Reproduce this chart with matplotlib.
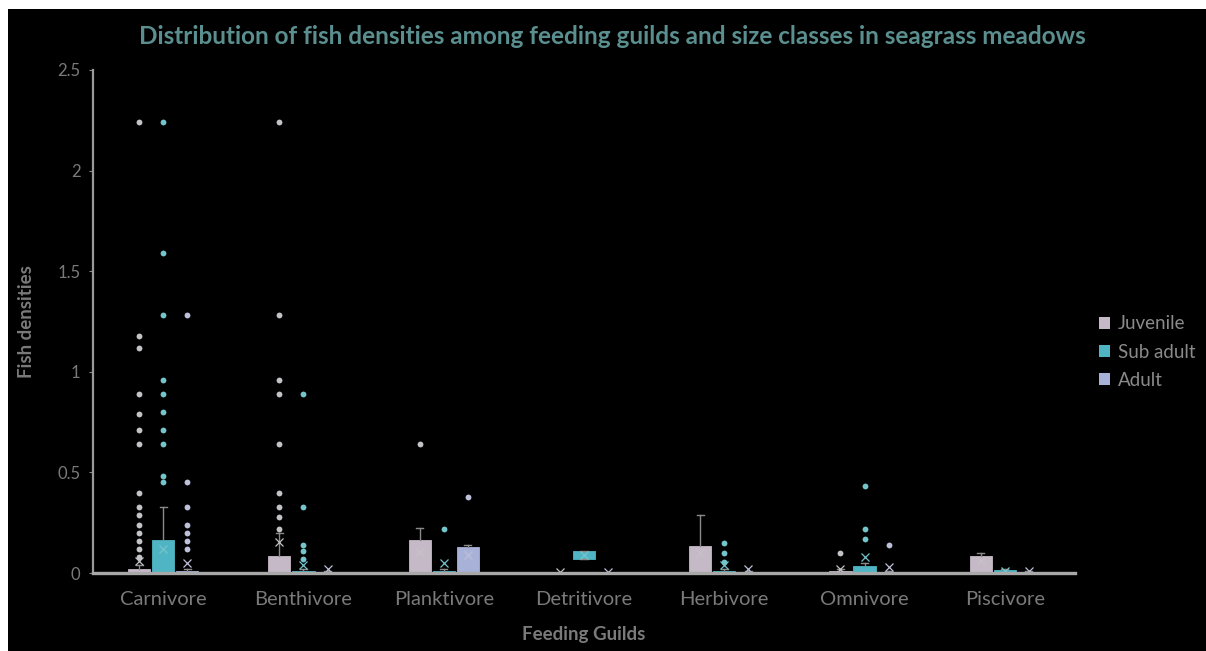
import matplotlib.pyplot as plt
from matplotlib.patches import Patch, Rectangle

# Feeding guilds along the x axis
guilds = ["Carnivore", "Benthivore", "Planktivore", "Detritivore",
          "Herbivore", "Omnivore", "Piscivore"]
size_classes = ["Juvenile", "Sub adult", "Adult"]

# Box statistics per size class (one value per guild)
juv_q1 = [0, 0, 0, 0, 0, 0, 0]
juv_med = [0, 0, 0.08, 0, 0.05, 0, 0.05]
juv_q3 = [0.02, 0.085, 0.165, 0.0, 0.135, 0.01, 0.085]
juv_whishi = [0.04, 0.2, 0.225, 0.0, 0.29, 0.02, 0.10]
juv_mean = [0.06, 0.155, 0.105, 0.005, 0.10, 0.02, 0.06]
juv_fliers = [
    [2.24, 1.18, 1.12, 0.89, 0.79, 0.71, 0.64, 0.40, 0.33, 0.29, 0.24,
     0.20, 0.16, 0.12, 0.08],
    [2.24, 1.28, 0.96, 0.89, 0.64, 0.40, 0.33, 0.28, 0.22],
    [0.64],
    [],
    [],
    [0.10],
    [],
]

sub_q1 = [0, 0, 0, 0.07, 0, 0, 0]
sub_med = [0.05, 0, 0, 0.09, 0, 0.01, 0]
sub_q3 = [0.165, 0.01, 0.01, 0.11, 0.01, 0.035, 0.015]
sub_whishi = [0.33, 0.02, 0.02, 0.11, 0.02, 0.05, 0.02]
sub_mean = [0.12, 0.04, 0.05, 0.09, 0.04, 0.08, 0.01]
sub_fliers = [
    [2.24, 1.59, 1.28, 0.96, 0.89, 0.80, 0.71, 0.64, 0.48, 0.45],
    [0.89, 0.33, 0.14, 0.11, 0.07],
    [0.22],
    [],
    [0.15, 0.10, 0.055],
    [0.43, 0.22, 0.17],
    [],
]

adu_q1 = [0, 0, 0, 0, 0, 0, 0]
adu_med = [0, 0, 0.06, 0, 0, 0, 0]
adu_q3 = [0.01, 0.005, 0.13, 0.0, 0.005, 0.005, 0.005]
adu_whishi = [0.02, 0.01, 0.14, 0.0, 0.01, 0.01, 0.01]
adu_mean = [0.05, 0.02, 0.09, 0.005, 0.02, 0.03, 0.01]
adu_fliers = [
    [1.28, 0.45, 0.33, 0.24, 0.20, 0.16, 0.12],
    [],
    [0.38],
    [],
    [],
    [0.14],
    [],
]

series = [
    (juv_q1, juv_med, juv_q3, juv_whishi, juv_mean, juv_fliers),
    (sub_q1, sub_med, sub_q3, sub_whishi, sub_mean, sub_fliers),
    (adu_q1, adu_med, adu_q3, adu_whishi, adu_mean, adu_fliers),
]

box_colors = ["#c6b9c7", "#4fb5c4", "#a8b1d8"]
dot_colors = ["#c4c2c6", "#74c4cc", "#bcc0d8"]
offsets = [-0.172, 0.0, 0.172]

FONT = "Lato"
GREY = "#7a7a7a"

fig = plt.figure(figsize=(12.06, 6.51), dpi=100)
fig.patch.set_facecolor("white")
fig.add_artist(Rectangle((8 / 1206, 0), 1, 1 - 9 / 651,
                         transform=fig.transFigure, facecolor="black",
                         edgecolor="none", zorder=-5))

ax = fig.add_axes([93 / 1206, 1 - 573 / 651, (1075 - 93) / 1206,
                   (573 - 70) / 651])
ax.set_facecolor("black")

for k, (q1, med, q3, whi, mean, fl) in enumerate(series):
    stats = []
    for i in range(len(guilds)):
        stats.append(dict(med=med[i], q1=q1[i], q3=q3[i], whislo=q1[i],
                          whishi=whi[i], mean=mean[i], fliers=fl[i]))
    pos = [i + offsets[k] for i in range(len(guilds))]
    ax.bxp(
        stats, positions=pos, widths=0.158, patch_artist=True,
        showmeans=True, manage_ticks=False,
        boxprops=dict(facecolor=box_colors[k], edgecolor=box_colors[k],
                      linewidth=0.6),
        medianprops=dict(color=box_colors[k], linewidth=0.6),
        whiskerprops=dict(color="#8a8a8a", linewidth=1.0),
        capprops=dict(color="#8a8a8a", linewidth=1.0),
        capwidths=0.05,
        meanprops=dict(marker="x", markeredgecolor=dot_colors[k],
                       markersize=5.5, markeredgewidth=0.9),
        flierprops=dict(marker="o", markerfacecolor=dot_colors[k],
                        markeredgecolor="none", markersize=4.2),
    )

ax.set_xlim(-0.5, 6.5)
ax.set_ylim(0, 2.5)
ax.set_xticks(range(len(guilds)))
ax.set_xticklabels(guilds, fontsize=14.5, color=GREY, family=FONT)
ax.set_yticks([0, 0.5, 1, 1.5, 2, 2.5])
ax.set_yticklabels(["0", "0.5", "1", "1.5", "2", "2.5"], fontsize=12,
                   color=GREY, family=FONT)
ax.tick_params(axis="x", length=0, pad=13)
ax.tick_params(axis="y", length=3, color="#8a8a8a", pad=6)

for side in ("top", "right"):
    ax.spines[side].set_visible(False)
ax.spines["left"].set_color("#9a9a9a")
ax.spines["left"].set_linewidth(1.6)
ax.spines["bottom"].set_color("#a8a8a8")
ax.spines["bottom"].set_linewidth(2.4)

ax.set_xlabel("Feeding Guilds", fontsize=13.5, color=GREY,
              fontweight="bold", family=FONT, labelpad=13)
ax.set_ylabel("Fish densities", fontsize=13.5, color=GREY,
              fontweight="bold", family=FONT, labelpad=16)

fig.text(612 / 1206, 1 - 37 / 651,
         "Distribution of fish densities among feeding guilds and size "
         "classes in seagrass meadows",
         ha="center", va="center", fontsize=17.5, fontweight="bold",
         color="#5b8f8f", family=FONT)

handles = [Patch(facecolor=c, edgecolor="none") for c in box_colors]
leg = fig.legend(handles, size_classes, loc="center left",
                 bbox_to_anchor=(1082 / 1206, 1 - 352 / 651),
                 frameon=False, labelcolor="#8a8a8a",
                 handlelength=0.6, handleheight=0.6, handletextpad=0.4,
                 labelspacing=0.6, prop=dict(family=FONT, size=13.5))

fig.savefig("out.png", dpi=100, facecolor=fig.get_facecolor())
